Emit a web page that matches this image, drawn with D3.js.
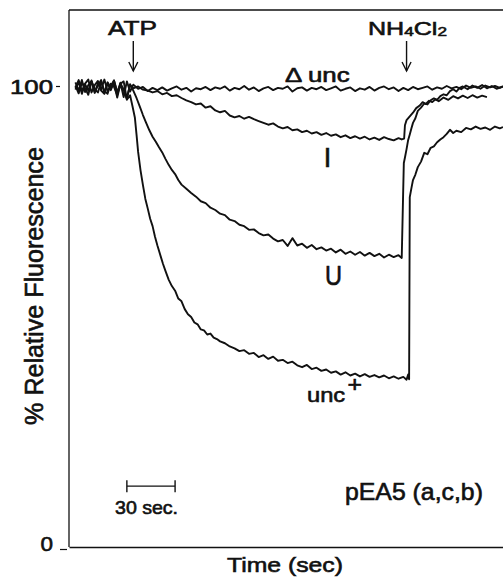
<!DOCTYPE html>
<html>
<head>
<meta charset="utf-8">
<script src="https://cdn.jsdelivr.net/npm/d3@7"></script>
<style>
body{margin:0;background:#fff}
text{font-family:"Liberation Sans",Arial,Helvetica,sans-serif;fill:#111;stroke:#111;stroke-width:0.6px}
</style>
</head>
<body>
<div id="chart"></div>
<script>
// time (sec) vs % relative fluorescence
var deltaUnc = [[4,100.8],[6,99.0],[8,101.3],[10,98.7],[12,100.2],[14,101.0],[16,98.5],[18,100.6],[20,99.2],[22,101.4],[24,98.9],[26,100.0],[28,101.2],[30,98.6],[32,100.7],[34,97.6],[36,101.0],[38,98.8],[40,100.3],
[43,99.4],[46,99.8],[49,98.9],[52,99.6],[55,99.1],[58,99.7],[61,99.0],[64,99.5],[67,99.9],[70,99.2],[73,99.6],[76,98.8],[79,99.5],[82,99.3],[85,99.8],[88,99.1],[91,99.7],[94,99.4],[97,99.9],[100,99.0],[103,99.6],[106,99.3],[109,100.0],[112,99.2],[115,99.7],[118,98.9],[121,99.5],[124,99.8],[127,99.1],[130,99.6],[133,99.4],[136,99.9],[139,98.8],[142,99.5],[145,99.7],[148,99.0],[151,99.6],[154,99.3],[157,99.8],[160,99.1],[163,99.5],[166,99.9],[169,99.0],[172,99.4],[175,99.7],[178,98.9],[181,99.5],[184,99.2],[187,99.8],[190,99.0],[193,99.6],[196,99.9],[199,99.3],[202,99.7],[205,98.9],[208,99.6],[211,99.1],[214,99.8],[217,99.3],[220,99.6],[223,99.9],[226,99.2],[229,99.7],[232,99.4],[235,100.0],[238,99.5],[241,99.8],[244,99.3],[247,100.1],[250,99.6],[253,99.9],[256,99.4],[259,100.1],[262,99.7],[265,100.0],[268,99.6],[270,99.9]]

var traceI = [[4,99.2],[6,100.9],[8,98.3],[10,100.4],[12,99.0],[14,101.2],[16,98.7],[18,100.1],[20,101.3],[22,98.4],[24,100.6],[26,99.1],[28,100.8],[30,97.5],[32,100.5],[34,101.0],[36,97.2],[38,100.2],[40,99.5],
[43,99.9],[46,99.2],[49,99.0],[52,98.6],[55,98.9],[58,98.2],[61,98.5],[64,97.8],[67,98.0],[70,97.4],[73,96.9],[76,96.5],[79,96.0],[82,96.2],[85,95.3],[88,95.6],[91,94.7],[94,94.3],[97,94.6],[100,93.6],[103,93.2],[106,93.5],[109,92.9],[112,93.3],[115,92.8],[118,92.4],[121,92.0],[124,91.6],[127,91.9],[130,91.2],[133,90.8],[136,91.1],[139,90.4],[142,90.6],[145,90.0],[148,90.3],[151,89.7],[154,90.0],[157,89.4],[160,89.8],[163,89.2],[166,89.5],[169,88.9],[172,89.3],[175,88.7],[178,89.1],[181,88.6],[184,89.0],[187,88.4],[190,88.8],[193,88.3],[196,88.9],[199,88.5],[202,88.2],[205,88.7],[207,88.4],[208.5,88.6],
[209,91.5],[210,92.6],[212,93.4],[214,94.2],[216,95.2],[218,95.7],[220,96.5],[222,96.1],[224,96.8],[226,96.5],[228,97.1],[230,96.7],[233,97.5],[236,97.0],[239,97.8],[242,97.3],[245,97.9],[248,97.4],[251,98.0],[254,97.5],[257,97.9],[260,97.6]]

var traceU = [[4,100.1],[6,98.4],[8,100.7],[10,99.6],[12,98.1],[14,101.0],[16,99.3],[18,98.6],[20,100.9],[22,99.0],[24,98.3],[26,100.5],[28,99.8],[30,98.0],[32,100.6],[34,99.2],[36,97.4],[38,100.4],[40,99.0],
[42,97.4],[44,95.6],[46,93.7],[48,92.0],[50,90.4],[52,89.0],[54,87.9],[56,86.7],[58,85.6],[60,84.2],[62,82.9],[64,81.8],[66,80.9],[68,79.6],[70,78.6],[73,77.7],[76,76.8],[79,76.0],[82,75.0],[85,74.6],[88,73.6],[91,73.1],[94,72.3],[97,72.0],[100,71.0],[103,70.7],[106,69.9],[109,69.6],[112,68.8],[115,68.9],[118,68.1],[121,67.6],[124,67.8],[127,66.9],[130,66.3],[133,66.6],[136,65.3],[139,67.0],[142,65.4],[145,65.8],[148,64.9],[151,65.5],[154,64.6],[157,65.0],[160,64.3],[163,64.7],[166,63.9],[169,64.5],[172,63.6],[175,64.1],[178,63.4],[181,64.0],[184,63.2],[187,63.8],[190,63.1],[193,63.6],[196,62.8],[199,63.4],[202,62.9],[205,63.3],[207,62.7],
[207.8,75.5],[208.3,83.3],[209,84.5],[210,86.3],[211,88.3],[212,89.5],[213,90.8],[214,92.0],[215.5,93.0],[217,94.6],[219,95.3],[221,96.2],[223,96.0],[225,96.9],[227,97.3],[229,97.0],[231,97.8],[233,98.2],[235,98.0],[237,98.9],[239,99.3],[241,98.8],[243,99.6],[245,99.9],[248,99.3],[251,100.1],[254,99.6],[257,100.2],[260,99.5],[263,100.0],[266,99.4],[270,99.9]]

var traceUncPlus = [[4,99.6],[6,101.3],[8,98.9],[10,100.5],[12,101.4],[14,98.6],[16,100.2],[18,101.1],[20,99.0],[22,98.3],[24,100.8],[26,99.5],[28,101.2],[30,98.7],[32,100.0],[34,99.3],[36,97.0],[38,98.0],
[39.5,95.6],[41,93.1],[42,89.5],[43,85.7],[44.5,81.7],[46,78.5],[47.5,75.5],[49,73.4],[50.5,71.2],[52,69.6],[53.5,67.3],[55,65.4],[57,63.1],[58.5,61.4],[60,59.9],[62,58.0],[64,56.6],[66,55.6],[68,53.9],[70,53.3],[72,51.6],[74,50.5],[76,49.9],[78,48.7],[80,48.3],[82,47.2],[84,47.0],[86,46.1],[88,46.3],[90,45.4],[92,45.1],[94,44.6],[97,44.2],[100,43.5],[103,43.1],[106,42.5],[109,42.7],[112,41.9],[115,42.1],[118,41.2],[121,41.6],[124,40.8],[127,41.3],[130,40.4],[133,40.6],[136,39.9],[139,40.2],[142,39.4],[145,39.0],[148,39.5],[151,38.6],[154,38.9],[157,38.2],[160,38.5],[163,37.8],[166,38.1],[169,37.4],[172,37.9],[175,37.2],[178,37.6],[181,37.0],[184,37.5],[187,36.9],[190,37.3],[193,36.8],[196,37.2],[199,36.6],[202,37.0],[205,36.5],[208,36.9],[210,36.3],[211,37.4],[211.6,36.4],
[212,75.9],[213,77.8],[214,79.6],[215.5,80.8],[217,82.4],[219,83.6],[221,85.5],[223,85.2],[225,86.6],[227,86.9],[229,87.8],[231,88.4],[233,88.9],[235,89.6],[237,90.5],[239,89.8],[241,90.3],[244,90.0],[247,90.9],[250,90.6],[253,91.2],[256,90.7],[259,91.0],[262,90.5],[265,91.2],[268,90.8],[270,91.1]]

var yTicks = [0, 100]
var additions = [["ATP", 40], ["NH4Cl2", 210]]   // time of addition, sec
var scaleBar = [36, 66]                           // 30 sec bar
var scaleBarLevel = 13.2

var W = 503, H = 577
var svg = d3.select("#chart").append("svg").attr("width", W).attr("height", H)
svg.append("rect").attr("width", W).attr("height", H).attr("fill", "#fff")

var x = d3.scaleLinear().domain([0, 270]).range([69, 503])
var y = d3.scaleLinear().domain([0, 100]).range([547, 86])

// squeeze/stretch a text to the width it has in the scan
function fit(t, w){
  var bw = t.node().getBBox().width
  t.attr("transform", "scale(" + (w / bw) + ",1)")
}
function label(txt, px, py, size, anchor, w){
  var g = svg.append("g").attr("transform", "translate(" + px + "," + py + ")")
  var t = g.append("text").attr("text-anchor", anchor).style("font-size", size + "px").text(txt)
  if(w) fit(t, w)
  return t
}

// frame: left and top edge
svg.append("line").attr("x1", 69).attr("x2", 69).attr("y1", 10).attr("y2", 547)
  .attr("stroke", "#111").attr("stroke-width", 1.3)
svg.append("line").attr("x1", 69).attr("x2", W).attr("y1", 10).attr("y2", 10)
  .attr("stroke", "#111").attr("stroke-width", 1.3)

// bottom axis, no ticks
var xg = svg.append("g").attr("transform", "translate(0,547)")
  .call(d3.axisBottom(x).tickValues([]).tickSizeOuter(0))
xg.select(".domain").attr("stroke", "#111").attr("stroke-width", 1.3)

// left axis: just the two labels with their little dashes
var yg = svg.append("g").attr("transform", "translate(69,0)")
  .call(d3.axisLeft(y).tickValues(yTicks).tickSize(0).tickPadding(16).tickFormat(d3.format("d")))
yg.select(".domain").remove()
yg.selectAll(".tick text")
  .attr("x", 0).attr("dy", null)
  .style("font-size", "20px").style("font-family", '"Liberation Sans",Arial,sans-serif')
  .each(function(d){
    var t = d3.select(this), bw = this.getBBox().width
    var w = d == 100 ? 43 : 12.5
    var dy = d == 100 ? 7 : 3
    t.attr("transform", "translate(-16," + dy + ") scale(" + (w / bw) + ",1)")
  })
yg.selectAll(".tick").append("line")
  .attr("stroke", "#111").attr("stroke-width", 1.2)
  .attr("x1", function(d){ return d == 100 ? -13 : -9 })
  .attr("x2", function(d){ return d == 100 ? -9 : -2 })
  .attr("y1", function(d){ return d == 100 ? 0 : 2 })
  .attr("y2", function(d){ return d == 100 ? 0 : 2 })

// traces
var line = d3.line().x(function(d){ return x(d[0]) }).y(function(d){ return y(d[1]) })
var traces = [deltaUnc, traceI, traceU, traceUncPlus]
svg.append("g").selectAll("path").data(traces).enter().append("path")
  .attr("d", line)
  .attr("fill", "none").attr("stroke", "#111").attr("stroke-width", 1.9)
  .attr("stroke-linejoin", "round")

// addition arrows
var arrows = svg.append("g").selectAll("g").data(additions).enter().append("g")
  .attr("transform", function(d){ return "translate(" + x(d[1]) + ",0)" })
arrows.append("line").attr("x1", 0).attr("x2", 0).attr("y1", 41).attr("y2", 71)
  .attr("stroke", "#111").attr("stroke-width", 1.4)
arrows.append("polyline").attr("points", "-4.5,62 0,71 4.5,62")
  .attr("fill", "none").attr("stroke", "#111").attr("stroke-width", 1.4)

// 30 sec scale bar
var sb = svg.append("g")
sb.append("line").attr("x1", x(scaleBar[0])).attr("x2", x(scaleBar[1]))
  .attr("y1", y(scaleBarLevel)).attr("y2", y(scaleBarLevel))
  .attr("stroke", "#111").attr("stroke-width", 1.4)
sb.selectAll(".cap").data(scaleBar).enter().append("line").attr("class", "cap")
  .attr("x1", function(d){ return x(d) }).attr("x2", function(d){ return x(d) })
  .attr("y1", y(scaleBarLevel) - 6).attr("y2", y(scaleBarLevel) + 6)
  .attr("stroke", "#111").attr("stroke-width", 1.4)

// labels
label("ATP", 108, 35, 20, "start", 49)

var nh = svg.append("g").attr("transform", "translate(368,35)").append("text").style("font-size", "19px")
nh.append("tspan").text("NH")
nh.append("tspan").style("font-size", "13px").attr("dy", 1).text("4")
nh.append("tspan").attr("dy", -1).text("Cl")
nh.append("tspan").style("font-size", "13px").attr("dy", 1).text("2")
fit(nh, 79)

label("\u0394 unc", 285, 82, 19.5, "start", 65)
label("I", 327.5, 167, 27, "middle")
label("U", 333.5, 285, 27, "middle", 17)

var up = svg.append("g").attr("transform", "translate(307,402)").append("text").style("font-size", "21px")
up.append("tspan").text("unc")
up.append("tspan").style("font-size", "22px").attr("dx", 2).attr("dy", -10).text("+")
fit(up, 55)

label("30 sec.", 146.5, 514, 17.5, "middle", 63)
label("pEA5 (a,c,b)", 345, 500, 23, "start", 138)
label("Time (sec)", 285, 572, 21, "middle", 116)

var yl = svg.append("g").attr("transform", "translate(43,286) rotate(-90)")
  .append("text").attr("text-anchor", "middle").style("font-size", "25px").text("% Relative Fluorescence")
fit(yl, 278)
</script>
</body>
</html>
